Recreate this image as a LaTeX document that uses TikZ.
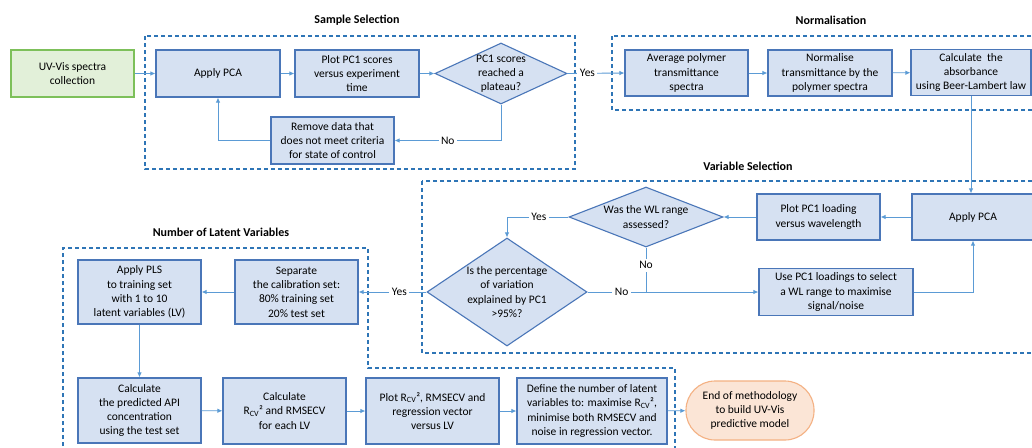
\documentclass[tikz,border=0pt]{standalone}
\usepackage{fontspec}
\setmainfont{Carlito}
\usetikzlibrary{shapes.geometric,arrows.meta,calc}
\definecolor{boxfill}{HTML}{D6E1F2}
\definecolor{boxline}{HTML}{4A76B8}
\definecolor{connline}{HTML}{5B9BD5}
\definecolor{dashline}{HTML}{2E75B6}
\definecolor{greenfill}{HTML}{E2F0D9}
\definecolor{greenline}{HTML}{7DC05A}
\definecolor{orangefill}{HTML}{FBE5D6}
\definecolor{orangeline}{HTML}{F4B183}
\begin{document}
\begin{tikzpicture}[x=1pt,y=-1pt,
  txt/.style={font=\fontsize{11.5}{14.3}\selectfont},
  box/.style={txt, draw=boxline, fill=boxfill, line width=1.1pt, align=center, inner sep=0pt},
  startbox/.style={box, draw=greenline, fill=greenfill},
  endbox/.style={box, draw=orangeline, fill=orangefill, rounded corners=29pt},
  dec/.style={diamond, draw=boxline, fill=boxfill, line width=1.1pt, inner sep=0pt},
  dectext/.style={txt, align=center, inner sep=0pt},
  conn/.style={draw=connline, line width=0.9pt, -{Latex[length=5pt,width=4.5pt]}},
  plain/.style={draw=connline, line width=0.9pt},
  lbl/.style={txt, fill=white, inner sep=2.5pt},
  region/.style={draw=dashline, line width=1.2pt, dash pattern=on 4pt off 3pt},
  title/.style={font=\bfseries\fontsize{12}{14}\selectfont}
]
\useasboundingbox (0,0) rectangle (1032,447);
\clip (0,0) rectangle (1032,447);
\fill[white] (0,0) rectangle (1032,447);

% regions
\draw[region] (145,36) rectangle (575,169);
\draw[region] (612,36) rectangle (1045,110);
\draw[region] (422,181) rectangle (1045,353);
\draw[region] (63,460) -- (63,248) -- (368,248) -- (368,368) -- (675,368) -- (675,460);

% titles
\node[title] (t1) at (357,20) {Sample Selection};
\node[title] (t2) at (831,20) {Normalisation};
\node[title] (t3) at (748,166) {Variable Selection};
\node[title] (t4) at (221,232) {Number of Latent Variables};

% sample selection
\node[startbox, minimum width=123pt, minimum height=47pt] (uv) at (72.5,73.5) {UV-Vis spectra\\collection};
\node[box, minimum width=124pt, minimum height=47pt] (apply1) at (218,73.5) {Apply PCA};
\node[box, minimum width=124pt, minimum height=47pt] (plot1) at (357,73.5) {Plot PC1 scores\\versus experiment\\time};
\node[dec, minimum width=132pt, minimum height=61pt] (d1) at (501,73.5) {};
\node[dectext] (d1t) at (d1.center) {PC1 scores\\reached a\\plateau?};
\node[box, minimum width=123pt, minimum height=47pt] (remove) at (332.5,140.5) {Remove data that\\does not meet criteria\\for state of control};

% normalisation
\node[box, minimum width=123pt, minimum height=46pt] (avg) at (686.5,73) {Average polymer\\transmittance\\spectra};
\node[box, minimum width=124pt, minimum height=46pt] (norm) at (830,73) {Normalise\\transmittance by the\\polymer spectra};
\node[box, minimum width=120pt, minimum height=46pt] (calc) at (971,72.5) {Calculate~ the\\absorbance\\using Beer-Lambert law};

% variable selection
\node[box, minimum width=122pt, minimum height=46pt] (apply2) at (973,217) {Apply PCA};
\node[box, minimum width=123pt, minimum height=46pt] (plot2) at (818.5,217) {Plot PC1 loading\\versus wavelength};
\node[dec, minimum width=154pt, minimum height=60pt] (d2) at (646,217) {};
\node[dectext] (d2t) at (d2.center) {Was the WL range\\assessed?};
\node[dec, minimum width=160pt, minimum height=108pt] (d3) at (507,292) {};
\node[dectext] (d3t) at (d3.center) {Is the percentage\\of variation\\explained by PC1\\>95\%?};
\node[box, minimum width=154pt, minimum height=47pt] (use) at (836,292) {Use PC1 loadings to select\\a WL range to maximise\\signal/noise};

% number of latent variables
\node[box, minimum width=123pt, minimum height=64pt] (pls) at (139.5,292) {Apply PLS\\to training set\\with 1 to 10\\latent variables (LV)};
\node[box, minimum width=123pt, minimum height=64pt] (sep) at (296.5,292) {Separate\\the calibration set:\\80\% training set\\20\% test set};
\node[box, minimum width=123pt, minimum height=65pt] (pred) at (139.5,410.5) {Calculate\\the predicted API\\concentration\\using the test set};
\node[box, minimum width=123pt, minimum height=66pt] (rcv) at (284.5,411) {Calculate\\R\textsubscript{CV}² and RMSECV\\for each LV};
\node[box, minimum width=133pt, minimum height=66pt] (plotr) at (432.5,411) {Plot R\textsubscript{CV}², RMSECV and\\regression vector\\versus LV};
\node[box, minimum width=150pt, minimum height=66pt] (define) at (592,411) {Define the number of latent\\variables to: maximise R\textsubscript{CV}²,\\minimise both RMSECV and\\noise in regression vector.};
\node[endbox, minimum width=128pt, minimum height=59pt] (end) at (750,410.5) {End of methodology\\to build UV-Vis\\predictive model};

% connectors: sample selection
\draw[conn] (uv) -- (apply1);
\draw[conn] (apply1) -- (plot1);
\draw[conn] (plot1) -- (d1);
\draw[conn] (d1.east) -- node[lbl, pos=0.35] {Yes} (avg.west);
\draw[conn] (d1.south) |- node[lbl, pos=0.75] {No} (remove.east);
\draw[conn] (remove.west) -| (apply1.south);

% normalisation
\draw[conn] (avg) -- (norm);
\draw[conn] (norm) -- (calc);
\draw[conn] (calc.south) -- (calc.south |- apply2.north);

% variable selection
\draw[conn] (apply2) -- (plot2);
\draw[conn] (plot2) -- (d2.east);
\draw[conn] (d2.west) -| node[lbl, pos=0.24] {Yes} (d3.north);
\draw[plain] (d2.south) -- node[lbl, pos=0.4] {No} (d2.south |- use.west);
\draw[conn] (d3.east) -- node[lbl, pos=0.2] {No} (use.west);
\draw[conn] (use.east) -| (apply2.south);

% number of latent variables
\draw[conn] (d3.west) -- node[lbl, pos=0.4] {Yes} (sep.east);
\draw[conn] (sep) -- (pls);
\draw[conn] (pls) -- (pred);
\draw[conn] (pred) -- (rcv);
\draw[conn] (rcv) -- (plotr);
\draw[conn] (plotr) -- (define);
\draw[conn] (define) -- (end);
\end{tikzpicture}
\end{document}
